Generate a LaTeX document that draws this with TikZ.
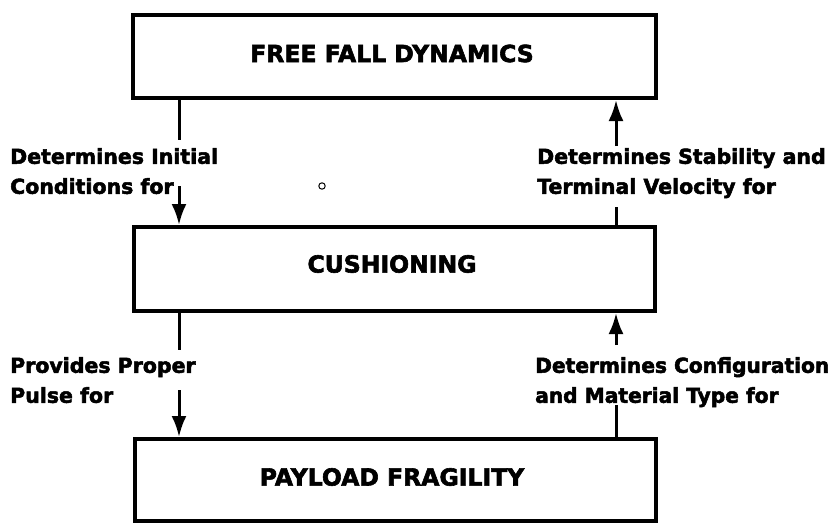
\documentclass[tikz,border=0pt]{standalone}
\usepackage{fontspec}
\setmainfont{DejaVu Sans}
\newfontfamily\heavyfont{DejaVu Sans Bold}[FakeBold=2.5]
\newfontfamily\heavycond{DejaVu Sans Bold}[FakeBold=2.5, FakeStretch=0.985]
\usetikzlibrary{arrows.meta}
\begin{document}
\begin{tikzpicture}[x=1pt,y=-1pt,
  box/.style={draw=black, line width=4pt, fill=none, inner sep=0pt},
  title/.style={font=\heavyfont\fontsize{23.5}{28}\selectfont, inner sep=0pt},
  lab/.style={font=\heavyfont\fontsize{20.5}{30}\selectfont, align=left, anchor=north west, inner sep=0pt},
  labc/.style={lab, font=\heavycond\fontsize{20.5}{30}\selectfont},
  conn/.style={line width=3pt},
  arr/.style={line width=3pt, -{Latex[length=21pt,width=15pt]}}]
\useasboundingbox (0,0) rectangle (834,524);
% boxes
\node[box, minimum width=523pt, minimum height=83pt] (ffd) at (394.5,56.5) {};
\node[box, minimum width=521pt, minimum height=84pt] (cush) at (394.5,269) {};
\node[box, minimum width=521pt, minimum height=82pt] (pay) at (395.5,480) {};
\node[title] (ffdt) at (392,53.5) {FREE FALL DYNAMICS};
\node[title] (cusht) at (392,264) {CUSHIONING};
\node[title] (payt) at (392,477) {PAYLOAD FRAGILITY};
% labels
\node[lab] (l1) at (10,148) {Determines Initial\\Conditions for};
\node[lab] (r1) at (537,148) {Determines Stability and\\Terminal Velocity for};
\node[lab] (l2) at (10,357) {Provides Proper\\Pulse for};
\node[labc] (r2) at (535,357) {Determines Configuration\\and Material Type for};
% connector coordinates
\coordinate (a1) at (179,140);
\coordinate (a2) at (179,186);
\coordinate (b1) at (616,146);
\coordinate (b2) at (616,207);
\coordinate (c1) at (179,350);
\coordinate (c2) at (179,390);
\coordinate (d1) at (616,345);
\coordinate (d2) at (616,405);
% connectors
\draw[conn] (ffd.south -| a1) -- (a1);
\draw[arr] (a2) -- (cush.north -| a2);
\draw[arr] (b1) -- (ffd.south -| b1);
\draw[conn] (b2) -- (cush.north -| b2);
\draw[conn] (cush.south -| c1) -- (c1);
\draw[arr] (c2) -- (pay.north -| c2);
\draw[arr] (d1) -- (cush.south -| d1);
\draw[conn] (d2) -- (pay.north -| d2);
% small speck circle
\draw[line width=1pt] (322,186) circle (3.2pt);
\end{tikzpicture}
\end{document}
